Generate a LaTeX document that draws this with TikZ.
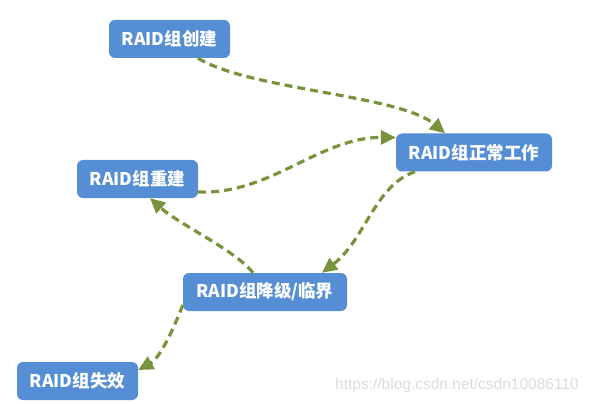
\documentclass[tikz,border=0pt]{standalone}
\usepackage{fontspec}
\newfontfamily\cjk{Noto Sans CJK SC}
\newfontfamily\wmfont{Liberation Sans}
\usetikzlibrary{arrows.meta}

\begin{document}
\begin{tikzpicture}[x=1pt,y=-1pt,
  state/.style={fill=stateblue, rounded corners=6pt, text=white,
    font=\cjk\bfseries\fontsize{17.5}{17.5}\selectfont,
    inner xsep=10pt, minimum width=121pt, minimum height=38pt},
  trans/.style={draw=arrowgreen, line width=3.2pt, dash pattern=on 8pt off 5pt,
    -{Triangle[length=15pt,width=14pt]}}]

% Colors
\definecolor{stateblue}{RGB}{85,142,213}
\definecolor{arrowgreen}{RGB}{119,147,60}
\definecolor{markgray}{RGB}{220,220,220}

\useasboundingbox (0,0) rectangle (590,404);

% States
\node[state] (create) at (169.5,39) {RAID组创建};
\node[state, minimum width=156pt] (normal) at (474,152.5) {RAID组正常工作};
\node[state] (rebuild) at (137.5,179) {RAID组重建};
\node[state, minimum width=164pt] (degrade) at (265,292) {RAID组降级/临界};
\node[state] (fail) at (77.5,381) {RAID组失效};

% Transitions
\draw[trans] ([xshift=28.5pt]create.south) .. controls (250,90) and (400,95) .. ([xshift=-29pt]normal.north);
\draw[trans] ([yshift=-13pt]rebuild.east) .. controls (270,195) and (320,137) .. ([yshift=15pt]normal.west);
\draw[trans] ([xshift=-59pt]normal.south) .. controls (375,185) and (365,240) .. ([xshift=57pt]degrade.north);
\draw[trans] ([xshift=-12pt]degrade.north) .. controls (235,250) and (180,225) .. ([xshift=12.5pt]rebuild.south);
\draw[trans] ([yshift=-13pt]degrade.west) .. controls (174,328) and (160,358) .. ([yshift=11pt]fail.east);

% Watermark
\node[text=markgray, font=\wmfont\fontsize{15.5}{15.5}\selectfont] (mark) at (457,385) {https://blog.csdn.net/csdn10086110};

\end{tikzpicture}
\end{document}
